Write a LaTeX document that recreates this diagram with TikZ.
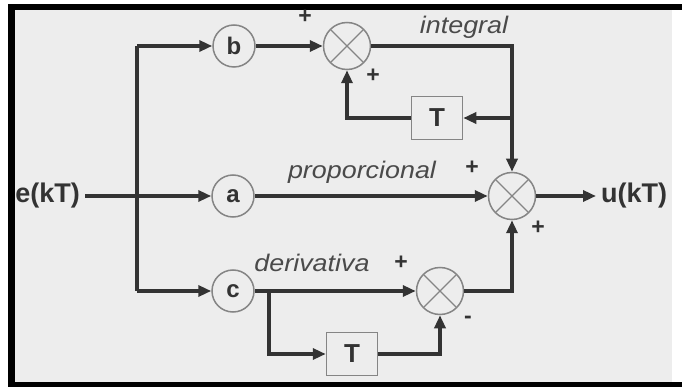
\documentclass[tikz,border=0pt]{standalone}
\usepackage{fontspec}
\setmainfont{Liberation Sans}
\usetikzlibrary{arrows.meta}
\definecolor{paper}{HTML}{EDEDED}
\definecolor{ink}{HTML}{333333}
\definecolor{rim}{HTML}{858585}
\definecolor{lbl}{HTML}{4A4A4A}
\newcommand{\wide}[1]{\scalebox{1.12}[1]{#1}}

\begin{document}
\begin{tikzpicture}[x = 1pt, y = -1pt]
\tikzstyle{Wire}=[
draw = ink,
line width = 3.4pt,
-{Triangle[length = 13pt, width = 11pt]}]
\tikzstyle{Line}=[
draw = ink,
line width = 3.4pt]
\tikzstyle{Gain}=[
shape = circle,
minimum size = 42pt,
inner sep = 0pt,
draw = rim,
line width = 1.5pt,
text = ink,
font = \fontsize{24}{24}\selectfont\bfseries]
\tikzstyle{Sum}=[
shape = circle,
minimum size = 47pt,
inner sep = 0pt,
draw = rim,
line width = 1.5pt,
path picture = {
\draw[rim, line width = 1.3pt] (path picture bounding box.north west) -- (path picture bounding box.south east);
\draw[rim, line width = 1.3pt] (path picture bounding box.north east) -- (path picture bounding box.south west);}]
\tikzstyle{Delay}=[
shape = rectangle,
minimum width = 51pt,
minimum height = 43pt,
inner sep = 0pt,
draw = rim,
line width = 1.5pt,
text = ink,
font = \fontsize{26}{26}\selectfont\bfseries]
\tikzstyle{Signal}=[
text = ink,
inner sep = 5pt,
font = \fontsize{27}{27}\selectfont\bfseries]
\tikzstyle{Branch}=[
text = lbl,
inner sep = 0pt,
font = \fontsize{24}{24}\selectfont\itshape]
\tikzstyle{Sign}=[
text = ink,
inner sep = 0pt,
font = \fontsize{23}{23}\selectfont\bfseries]
\useasboundingbox (0, 0) rectangle (682, 387);
\fill[paper] (13, 8) rectangle (672, 383);
\fill[black] (8, 4) rectangle (682, 10);
\fill[black] (8, 4) rectangle (15, 387);
\fill[black] (8, 382) rectangle (682, 387);
\node[Signal, anchor = east] (ek) at (85, 196) {e(kT)};
\node[Gain] (gb) at (234, 46) {b};
\node[Gain] (ga) at (233, 196) {a};
\node[Gain] (gc) at (233, 291) {c};
\node[Sum] (s1) at (347, 46) {};
\node[Sum] (s2) at (512, 196) {};
\node[Sum] (s3) at (440, 291) {};
\node[Delay] (t1) at (437, 118) {T};
\node[Delay] (t2) at (352, 354) {T};
\node[Signal, anchor = west] (uk) at (596, 196) {u(kT)};
\coordinate (j0) at (137, 196);
\coordinate (j1) at (511, 118);
\coordinate (j2) at (269, 291);
\node[Branch] (lint) at (464, 27) {\wide{integral}};
\node[Branch] (lprop) at (362, 172) {\wide{proporcional}};
\node[Branch] (lder) at (312, 263) {\wide{derivativa}};
\node[Sign] (p1) at (305, 17) {+};
\node[Sign] (p2) at (373, 76) {+};
\node[Sign] (p3) at (472, 168) {+};
\node[Sign] (p4) at (538, 228) {+};
\node[Sign] (p5) at (401, 263) {+};
\node[Sign] (m1) at (468, 320) {-};
\draw[Wire] (ek) -- (ga);
\draw[Line] (j0) -- (j0 |- gb);
\draw[Wire] (j0 |- gb) -- (gb);
\draw[Line] (j0) -- (j0 |- gc);
\draw[Wire] (j0 |- gc) -- (gc);
\draw[Wire] (gb) -- (s1);
\draw[Wire] (s1) -| (s2);
\draw[Wire] (j1) -- (t1);
\draw[Wire] (t1) -| (s1);
\draw[Wire] (ga) -- (s2);
\draw[Wire] (gc) -- (s3);
\draw[Wire] (j2) |- (t2);
\draw[Wire] (t2) -| (s3);
\draw[Wire] (s3) -| (s2);
\draw[Wire] (s2.east) -- (s2.east -| uk.west);
\end{tikzpicture}
\end{document}
